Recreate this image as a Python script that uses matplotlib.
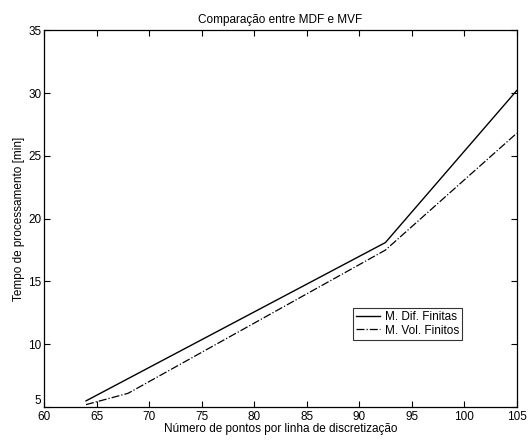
import matplotlib
matplotlib.use('Agg')
import matplotlib.pyplot as plt

plt.rcParams['font.family'] = ['Liberation Sans', 'DejaVu Sans']

# dados
x_mdf = [64, 92.5, 105]
t_mdf = [5.5, 18.1, 30.2]
x_mvf = [64, 68, 92.5, 105]
t_mvf = [5.2, 6.1, 17.5, 26.8]

xticks = [60, 65, 70, 75, 80, 85, 90, 95, 100, 105]
yticks = [5, 10, 15, 20, 25, 30, 35]

fig = plt.figure(figsize=(5.3, 4.44), dpi=100)
ax = fig.add_axes([0.083, 0.083, 0.892, 0.849])

ax.plot(x_mdf, t_mdf, color='black', linestyle='-', linewidth=1.0, label='M. Dif. Finitas')
ax.plot(x_mvf, t_mvf, color='black', linestyle='-.', linewidth=0.9, label='M. Vol. Finitos')

ax.set_xlim(60, 105)
ax.set_ylim(5, 35)
ax.set_xticks(xticks)
ax.set_yticks(yticks)
ax.tick_params(direction='in', top=True, right=True, labelsize=8.5, length=4)
ax.tick_params(axis='x', pad=3)
ax.tick_params(axis='y', pad=2)
# o "5" fica um pouco acima, como no original
ax.get_yticklabels()[0].set_verticalalignment('bottom')
for s in ax.spines.values():
    s.set_linewidth(0.9)

ax.set_title('Comparação entre MDF e MVF', fontsize=8.5, pad=5)
ax.set_xlabel('Número de pontos por linha de discretização', fontsize=8.5, labelpad=0)
ax.set_ylabel('Tempo de processamento [min]', fontsize=8.5, labelpad=2)

leg = ax.legend(loc='lower left', bbox_to_anchor=(0.653, 0.178, 0.21, 0.092),
                fontsize=8.5, frameon=True, fancybox=False, handlelength=2.0,
                borderpad=0.3, labelspacing=0.1, handletextpad=0.4, borderaxespad=0)
leg.get_frame().set_edgecolor('black')
leg.get_frame().set_linewidth(0.8)

fig.savefig('out.png', dpi=100)
